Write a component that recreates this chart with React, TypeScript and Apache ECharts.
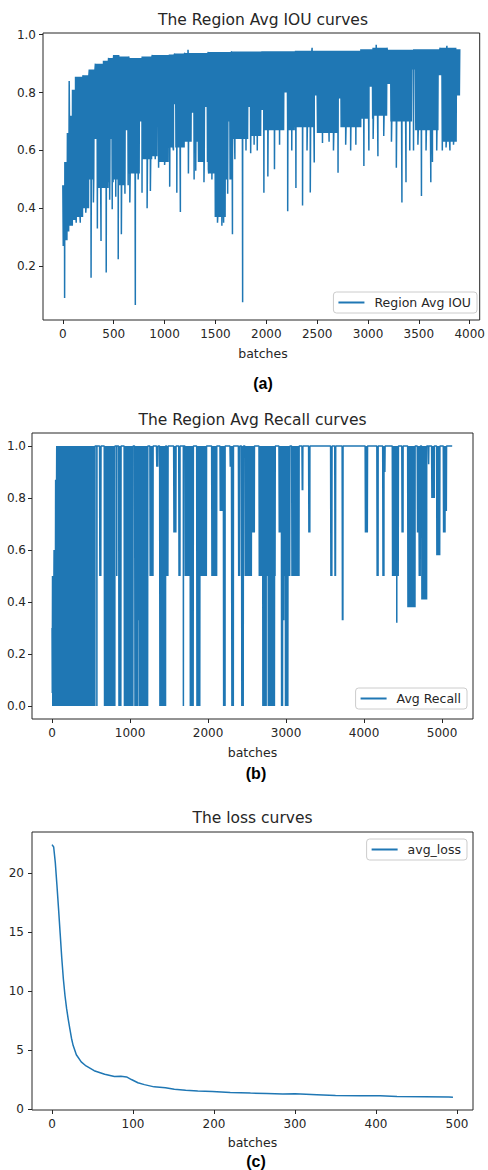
import React, { useEffect, useRef } from "react";
import * as echarts from "echarts";

const BLUE = "#1f77b4";
const INK = "#262626";
const FONT = "DejaVu Sans";

// ---------- (a) Region Avg IOU ----------
const iouXTicks = [0, 500, 1000, 1500, 2000, 2500, 3000, 3500, 4000];
const iouYTicks = [0.2, 0.4, 0.6, 0.8, 1.0];
// dense body of the curve: [batchFrom, batchTo, upper, lower]
const iouBody: number[][] = [
  [0, 20, 0.48, 0.27],
  [20, 45, 0.56, 0.29],
  [45, 65, 0.66, 0.32],
  [65, 95, 0.72, 0.34],
  [95, 125, 0.81, 0.36],
  [125, 200, 0.855, 0.37],
  [200, 260, 0.86, 0.4],
  [260, 320, 0.88, 0.5],
  [320, 400, 0.9, 0.47],
  [400, 450, 0.91, 0.47],
  [450, 500, 0.92, 0.49],
  [500, 550, 0.93, 0.5],
  [550, 650, 0.925, 0.48],
  [650, 780, 0.92, 0.52],
  [780, 880, 0.925, 0.57],
  [880, 950, 0.93, 0.58],
  [950, 1040, 0.93, 0.56],
  [1040, 1100, 0.932, 0.61],
  [1100, 1200, 0.935, 0.61],
  [1200, 1330, 0.937, 0.63],
  [1330, 1430, 0.937, 0.56],
  [1430, 1495, 0.94, 0.52],
  [1495, 1600, 0.94, 0.37],
  [1600, 1660, 0.94, 0.5],
  [1660, 1820, 0.942, 0.64],
  [1820, 1950, 0.942, 0.65],
  [1950, 2150, 0.943, 0.67],
  [2150, 2280, 0.943, 0.67],
  [2280, 2500, 0.945, 0.68],
  [2500, 2700, 0.945, 0.66],
  [2700, 2930, 0.945, 0.68],
  [2930, 3050, 0.95, 0.71],
  [3050, 3190, 0.955, 0.72],
  [3190, 3450, 0.948, 0.7],
  [3450, 3710, 0.95, 0.67],
  [3710, 3870, 0.955, 0.63],
  [3870, 3904, 0.95, 0.79],
];
// stretches where the dense body stops higher: [batchFrom, batchTo, lower]
const iouNotches: number[][] = [
  [306, 339, 0.64], [469, 492, 0.64], [616, 642, 0.67], [755, 778, 0.7],
  [925, 948, 0.7], [1087, 1110, 0.76], [1267, 1300, 0.73], [1397, 1420, 0.75],
  [1625, 1641, 0.7], [1820, 1846, 0.75], [1950, 1983, 0.74], [2178, 2210, 0.8],
  [2471, 2503, 0.79], [2699, 2731, 0.78], [3008, 3040, 0.82], [3187, 3220, 0.83],
  [3431, 3464, 0.88], [3691, 3724, 0.86],
];
// isolated excursions: [batch, value]
const iouSpikes: number[][] = [
  [17, 0.09], [62, 0.84], [131, 0.35], [171, 0.35], [225, 0.385], [277, 0.16],
  [300, 0.42], [339, 0.33], [375, 0.287], [426, 0.178], [460, 0.43], [485, 0.397],
  [520, 0.44], [544, 0.224], [575, 0.31], [610, 0.45], [658, 0.42], [712, 0.066],
  [740, 0.5], [778, 0.454], [828, 0.4], [860, 0.46], [908, 0.57], [941, 0.54],
  [1000, 0.55], [1050, 0.475], [1087, 0.6], [1120, 0.454], [1155, 0.387], [1230, 0.948],
  [1234, 0.52], [1290, 0.5], [1306, 0.53], [1348, 0.58], [1387, 0.49], [1430, 0.535],
  [1465, 0.5], [1520, 0.35], [1563, 0.34], [1580, 0.35], [1620, 0.45], [1667, 0.31],
  [1691, 0.57], [1767, 0.075], [1800, 0.6], [1846, 0.59], [1880, 0.62], [1911, 0.6],
  [1976, 0.454], [2015, 0.51], [2080, 0.535], [2130, 0.62], [2210, 0.39], [2250, 0.6],
  [2291, 0.47], [2356, 0.41], [2400, 0.6], [2432, 0.455], [2450, 0.955], [2471, 0.558],
  [2552, 0.626], [2617, 0.63], [2660, 0.6], [2705, 0.523], [2780, 0.62], [2829, 0.6],
  [2880, 0.62], [2959, 0.546], [3008, 0.6], [3050, 0.64], [3080, 0.965], [3097, 0.58],
  [3154, 0.65], [3230, 0.63], [3278, 0.54], [3333, 0.42], [3373, 0.49], [3410, 0.6],
  [3447, 0.6], [3490, 0.62], [3525, 0.443], [3570, 0.6], [3617, 0.49], [3633, 0.56],
  [3675, 0.6], [3730, 0.6], [3767, 0.61], [3775, 0.962], [3805, 0.6], [3840, 0.62],
];

// ---------- (b) Region Avg Recall ----------
const recallXTicks = [0, 1000, 2000, 3000, 4000, 5000];
const recallYTicks = [0, 0.2, 0.4, 0.6, 0.8, 1.0];
const recallLastBatch = 5130;
// drops away from 1.0: [batchFrom, batchTo, low, high]
const recallDrops: number[][] = [
  [0, 5, 0.05, 0.3],
  [6, 25, 0, 0.5],
  [26, 45, 0, 0.6],
  [46, 59, 0, 0.87],
  [60, 550, 0, 1],
  [575, 575, 0, 1],
  [610, 630, 0.5, 1],
  [670, 805, 0, 1],
  [830, 830, 0.5, 1],
  [855, 885, 0, 1],
  [925, 1040, 0, 1],
  [1060, 1099, 0, 1],
  [1100, 1119, 0.33, 1],
  [1120, 1230, 0, 1],
  [1255, 1295, 0.5, 1],
  [1340, 1360, 0.92, 1],
  [1380, 1455, 0, 1],
  [1470, 1490, 0.5, 1],
  [1560, 1590, 0.667, 1],
  [1625, 1640, 0.5, 1],
  [1684, 1684, 0, 1],
  [1705, 1769, 0.5, 1],
  [1770, 1812, 0, 1],
  [1855, 1896, 0, 1],
  [1897, 1983, 0.5, 1],
  [2047, 2111, 0.5, 1],
  [2154, 2196, 0.75, 1],
  [2197, 2218, 0, 1],
  [2282, 2300, 0.92, 1],
  [2303, 2325, 0, 1],
  [2390, 2410, 0.5, 1],
  [2430, 2455, 0, 1],
  [2474, 2559, 0.5, 1],
  [2560, 2594, 0.667, 1],
  [2654, 2699, 0.5, 1],
  [2700, 2745, 0, 1],
  [2746, 2769, 0.5, 1],
  [2770, 2855, 0, 1],
  [2856, 2862, 0.5, 1],
  [2910, 2939, 0.667, 1],
  [2940, 2959, 0, 1],
  [2960, 2968, 0.5, 1],
  [2970, 2970, 0.33, 1],
  [2972, 2989, 0.5, 1],
  [2990, 3025, 0, 1],
  [3026, 3050, 0.5, 1],
  [3073, 3167, 0.5, 1],
  [3205, 3215, 0.83, 1],
  [3290, 3305, 0.667, 1],
  [3572, 3590, 0.5, 1],
  [3625, 3636, 0.5, 1],
  [3720, 3730, 0.33, 1],
  [4015, 4045, 0.667, 1],
  [4165, 4180, 0.5, 1],
  [4240, 4255, 0.5, 1],
  [4258, 4269, 0.9, 1],
  [4363, 4418, 0.5, 1],
  [4420, 4420, 0.32, 1],
  [4423, 4440, 0.5, 1],
  [4485, 4500, 0.667, 1],
  [4560, 4654, 0.38, 1],
  [4683, 4700, 0.667, 1],
  [4705, 4725, 0.5, 1],
  [4739, 4803, 0.41, 1],
  [4825, 4830, 0.93, 1],
  [4867, 4900, 0.8, 1],
  [4931, 4974, 0.58, 1],
  [5017, 5039, 0.667, 1],
  [5040, 5060, 0.75, 1],
];

// ---------- (c) loss ----------
const lossXTicks = [0, 100, 200, 300, 400, 500];
const lossYTicks = [0, 5, 10, 15, 20];
const lossBatches = [0, 2, 4, 6, 8, 10, 12, 14, 16, 18, 20, 22, 24, 26, 30, 36, 42, 52, 65, 77, 85, 92, 98, 106, 114, 126, 140, 151, 165, 180, 198, 220, 245, 265, 285, 300, 327, 350, 380, 405, 426, 460, 490, 495];
const lossValues = [22.4, 22.2, 20.9, 19.0, 17.0, 14.9, 12.8, 11.0, 9.6, 8.5, 7.6, 6.8, 6.0, 5.4, 4.6, 4.0, 3.65, 3.25, 2.95, 2.75, 2.78, 2.72, 2.5, 2.23, 2.07, 1.88, 1.8, 1.68, 1.6, 1.53, 1.48, 1.4, 1.35, 1.32, 1.28, 1.3, 1.22, 1.15, 1.13, 1.12, 1.06, 1.04, 1.02, 1.0];

function notchAt(b: number): number | null {
  for (const [n0, n1, low] of iouNotches) if (b >= n0 && b < n1) return low;
  return null;
}

function buildIou(): number[][] {
  const pts: number[][] = [];
  for (const [b0, b1, top, bot] of iouBody) {
    let k = 0;
    for (let b = b0; b < b1; b += 4) {
      const n = notchAt(b);
      pts.push([b, k % 2 === 0 ? top : n !== null ? n : bot]);
      k++;
    }
  }
  for (const [b, v] of iouSpikes) pts.push([b + 0.5, v]);
  pts.sort((p, q) => p[0] - q[0]);
  return pts;
}

function buildRecall(): number[][] {
  const pts: number[][] = [];
  let cursor = 0;
  for (const [b0, b1, low, high] of recallDrops) {
    if (b0 > cursor + 1) {
      pts.push([cursor, 1]);
      pts.push([b0 - 1, 1]);
    }
    if (b1 === b0) {
      pts.push([b0, low]);
    } else {
      let k = 0;
      for (let b = b0; b <= b1; b += 3) {
        pts.push([b, k % 2 === 0 ? high : low]);
        k++;
      }
    }
    cursor = b1 + 1;
  }
  pts.push([cursor, 1]);
  pts.push([recallLastBatch, 1]);
  return pts;
}

function buildLoss(): number[][] {
  return lossBatches.map((b, i) => [b, lossValues[i]]);
}

function mkAxis(gridIndex: number, min: number, max: number, ticks: number[], fmt: (v: number) => string, margin: number) {
  return {
    type: "value",
    gridIndex,
    min,
    max,
    splitLine: { show: false },
    axisLine: { show: false, onZero: false },
    axisTick: {
      show: true,
      length: 4,
      inside: false,
      customValues: ticks,
      lineStyle: { color: INK, width: 1 },
    },
    axisLabel: {
      show: true,
      customValues: ticks,
      formatter: (v: number) => fmt(v),
      margin,
      color: INK,
      fontSize: 12,
      fontFamily: FONT,
    },
  };
}

function txt(text: string, x: number, y: number, size: number) {
  return {
    type: "text",
    x,
    y,
    silent: true,
    style: { text, align: "center", verticalAlign: "middle", fontSize: size, fontFamily: FONT, fill: INK },
  };
}
function cap(text: string, x: number, y: number) {
  return {
    type: "text",
    x,
    y,
    silent: true,
    style: { text, align: "center", verticalAlign: "middle", fontSize: 16, fontWeight: "bold", fontFamily: "Liberation Sans", fill: "#000" },
  };
}

function mkLegend(name: string, right: number, top: number) {
  return {
    data: [name],
    right,
    top,
    orient: "horizontal",
    icon: "rect",
    itemWidth: 26,
    itemHeight: 2,
    backgroundColor: "rgba(255,255,255,0.85)",
    borderColor: "#cccccc",
    borderWidth: 1,
    borderRadius: 3,
    padding: [4, 6, 4, 5],
    selectedMode: false,
    textStyle: { fontSize: 12.5, color: INK, fontFamily: FONT, padding: [0, 0, 0, 5] },
  };
}

export default function App() {
  const ref = useRef<HTMLDivElement>(null);
  useEffect(() => {
    if (!ref.current) return;
    const chart = echarts.init(ref.current, undefined, { renderer: "svg" });
    const gridStyle = { show: true, borderColor: INK, borderWidth: 1, backgroundColor: "transparent" };
    const option: any = {
      animation: false,
      grid: [
        { left: 43, top: 33, width: 440, height: 287, ...gridStyle },
        { left: 32, top: 433, width: 441, height: 286, ...gridStyle },
        { left: 32, top: 832, width: 441, height: 278, ...gridStyle },
      ],
      xAxis: [
        mkAxis(0, -195, 4098, iouXTicks, (v) => String(v), 8),
        mkAxis(1, -257, 5397, recallXTicks, (v) => String(v), 8),
        mkAxis(2, -24.75, 519.75, lossXTicks, (v) => String(v), 8),
      ],
      yAxis: [
        mkAxis(0, 0.014, 1.006, iouYTicks, (v) => v.toFixed(1), 7),
        mkAxis(1, -0.05, 1.05, recallYTicks, (v) => v.toFixed(1), 6),
        mkAxis(2, -0.08, 23.47, lossYTicks, (v) => String(Math.round(v)), 8),
      ],
      legend: [
        mkLegend("Region Avg IOU", 11, 292),
        mkLegend("Avg Recall", 21, 688),
        mkLegend("avg_loss", 21, 839),
      ],
      series: [
        {
          type: "line",
          name: "Region Avg IOU",
          xAxisIndex: 0,
          yAxisIndex: 0,
          data: buildIou(),
          symbol: "none",
          showSymbol: false,
          lineStyle: { color: BLUE, width: 1.5 },
          itemStyle: { color: BLUE },
        },
        {
          type: "line",
          name: "Avg Recall",
          xAxisIndex: 1,
          yAxisIndex: 1,
          data: buildRecall(),
          symbol: "none",
          showSymbol: false,
          lineStyle: { color: BLUE, width: 1.5 },
          itemStyle: { color: BLUE },
        },
        {
          type: "line",
          name: "avg_loss",
          xAxisIndex: 2,
          yAxisIndex: 2,
          data: buildLoss(),
          symbol: "none",
          showSymbol: false,
          lineStyle: { color: BLUE, width: 1.5 },
          itemStyle: { color: BLUE },
        },
      ],
      graphic: [
        txt("The Region Avg IOU curves", 263, 20, 15.5),
        txt("batches", 263, 353, 12.5),
        cap("(a)", 263, 383),
        txt("The Region Avg Recall curves", 252.5, 420, 15.5),
        txt("batches", 252.5, 752, 12.5),
        cap("(b)", 256, 773),
        txt("The loss curves", 252.5, 818, 15.5),
        txt("batches", 252.5, 1142, 12.5),
        cap("(c)", 256, 1161),
      ],
    };
    chart.setOption(option);
    return () => chart.dispose();
  }, []);
  return (
    <div
      ref={ref}
      style={{ position: "absolute", left: 0, top: 0, width: 488, height: 1170, background: "#fff" }}
    />
  );
}
